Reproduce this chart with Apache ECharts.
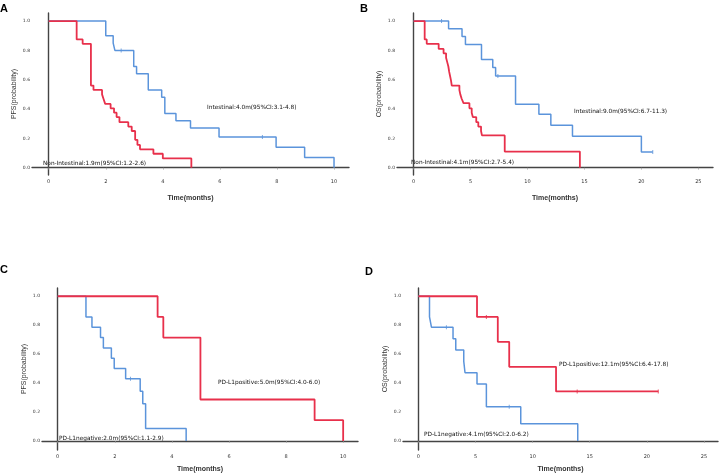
<!DOCTYPE html>
<html>
<head>
<meta charset="utf-8">
<title>KM curves</title>
<script src="https://cdn.jsdelivr.net/npm/echarts@6/dist/echarts.min.js"></script>
<style>
  html, body { margin: 0; padding: 0; background: #fff; }
  #main { width: 720px; height: 474px; }
</style>
</head>
<body>
<div id="main"></div>
<script>
// ---- data ----
// A: PFS, intestinal vs non-intestinal
var aIntT = [0, 2.0, 2.26, 2.32, 2.98, 3.08, 3.49, 3.96, 4.07, 4.46, 4.97, 5.97, 7.97, 8.97, 10.0];
var aIntS = [1, 0.90, 0.85, 0.80, 0.69, 0.64, 0.53, 0.48, 0.37, 0.32, 0.27, 0.21, 0.14, 0.07, 0];
var aIntCens = [[2.54, 0.80], [7.49, 0.21]];
var aNonT = [0, 0.98, 1.19, 1.48, 1.57, 1.87, 1.92, 1.98, 2.17, 2.29, 2.38, 2.48, 2.79, 2.91, 3.03, 3.11, 3.2, 3.67, 4.0, 5.0];
var aNonS = [1, 0.875, 0.845, 0.56, 0.53, 0.50, 0.47, 0.435, 0.405, 0.375, 0.345, 0.31, 0.28, 0.25, 0.19, 0.155, 0.125, 0.095, 0.063, 0];

// B: OS, intestinal vs non-intestinal
var bIntT = [0, 3.07, 4.25, 4.55, 5.96, 6.95, 7.2, 8.95, 11.0, 12.05, 13.95, 20.0, 21.0];
var bIntS = [1, 0.948, 0.895, 0.84, 0.737, 0.684, 0.625, 0.432, 0.365, 0.29, 0.215, 0.107, 0.107];
var bIntCens = [[2.45, 1.0], [7.4, 0.625], [21.0, 0.107]];
var bNonT = [0, 0.97, 1.15, 2.2, 2.63, 2.85, 2.95, 3.05, 3.12, 3.2, 3.28, 3.35, 4.02, 4.1, 4.22, 4.38, 4.9, 5.1, 5.2, 5.5, 5.68, 5.92, 6.0, 8.0, 14.6];
var bNonS = [1, 0.875, 0.845, 0.81, 0.78, 0.75, 0.72, 0.69, 0.655, 0.625, 0.595, 0.56, 0.53, 0.50, 0.47, 0.44, 0.405, 0.375, 0.345, 0.31, 0.28, 0.25, 0.22, 0.11, 0];

// C: PFS, PD-L1 positive vs negative
var cPosT = [0, 3.5, 3.7, 5.0, 9.0, 10.0];
var cPosS = [1, 0.857, 0.714, 0.286, 0.143, 0];
var cNegT = [0, 0.99, 1.2, 1.5, 1.6, 1.88, 1.98, 2.38, 2.89, 2.98, 3.08, 4.5];
var cNegS = [1, 0.857, 0.786, 0.714, 0.643, 0.571, 0.5, 0.429, 0.343, 0.257, 0.086, 0];
var cNegCens = [[2.55, 0.429]];

// D: OS, PD-L1 positive vs negative
var dPosT = [0, 5.13, 6.95, 7.95, 12.05, 21.0];
var dPosS = [1, 0.857, 0.685, 0.512, 0.342, 0.342];
var dPosCens = [[5.95, 0.857], [13.9, 0.342], [21.0, 0.342]];
var dNegT = [0, 0.97, 1.14, 3.03, 3.27, 3.97, 4.08, 5.13, 5.95, 8.96, 13.95];
var dNegS = [1, 0.857, 0.786, 0.707, 0.628, 0.55, 0.471, 0.393, 0.236, 0.118, 0];
var dNegCens = [[2.45, 0.786], [7.95, 0.236]];

var xTicksShort = [0, 2, 4, 6, 8, 10];
var xTicksLong = [0, 5, 10, 15, 20, 25];
var yTicks = [0, 0.2, 0.4, 0.6, 0.8, 1.0];
var panelLetters = ['A', 'B', 'C', 'D'];
var yTitles = ['PFS(probability)', 'OS(probability)', 'PFS(probability)', 'OS(probability)'];
var xTitle = 'Time(months)';
var notes = [
  'Intestinal:4.0m(95%CI:3.1-4.8)', 'Non-Intestinal:1.9m(95%CI:1.2-2.6)',
  'Intestinal:9.0m(95%CI:6.7-11.3)', 'Non-Intestinal:4.1m(95%CI:2.7-5.4)',
  'PD-L1positive:5.0m(95%CI:4.0-6.0)', 'PD-L1negative:2.0m(95%CI:1.1-2.9)',
  'PD-L1positive:12.1m(95%CI:6.4-17.8)', 'PD-L1negative:4.1m(95%CI:2.0-6.2)'
];

var RED = '#e8304b';
var BLUE = '#5b94db';

function zip(t, s) {
  var out = [];
  for (var i = 0; i < t.length; i++) out.push([t[i], s[i]]);
  return out;
}

var grids = [
  {left: 32, top: 13, width: 317, height: 162},
  {left: 397, top: 13, width: 316, height: 162},
  {left: 42, top: 288, width: 316, height: 164},
  {left: 403, top: 288, width: 315, height: 164}
];
var xRanges = [[-0.585, 10.525], [-1.46, 26.29], [-0.55, 10.52], [-1.35, 26.23]];
var yRanges = [[-0.05, 1.055], [-0.05, 1.055], [-0.063, 1.057], [-0.063, 1.057]];
var xNameGap = [20, 20, 16, 16];

var axisLine = {lineStyle: {color: '#444', width: 1.4}};
var xAxes = [], yAxes = [];
for (var i = 0; i < 4; i++) {
  var xt = (i % 2 === 0) ? xTicksShort : xTicksLong;
  xAxes.push({
    type: 'value', gridIndex: i, min: xRanges[i][0], max: xRanges[i][1],
    name: xTitle, nameLocation: 'middle', nameGap: xNameGap[i],
    nameTextStyle: {fontSize: 7, fontWeight: 'bold', color: '#333', fontFamily: 'Liberation Sans'},
    axisLine: axisLine, splitLine: {show: false},
    axisTick: {show: true, length: 2, customValues: xt, lineStyle: {color: '#999', width: 0.6}},
    axisLabel: {customValues: xt, fontSize: 5, color: '#333', margin: 4, fontFamily: 'DejaVu Sans'}
  });
  yAxes.push({
    type: 'value', gridIndex: i, min: yRanges[i][0], max: yRanges[i][1],
    name: yTitles[i], nameLocation: 'middle', nameRotate: 90, nameGap: 14,
    nameTextStyle: {fontSize: 7, color: '#333', fontFamily: 'Liberation Sans'},
    axisLine: axisLine, splitLine: {show: false},
    axisTick: {show: false},
    axisLabel: {customValues: yTicks, fontSize: 4.5, color: '#333', margin: 2, fontFamily: 'DejaVu Sans',
      formatter: function (v) { return v.toFixed(1); }}
  });
}

function curve(idx, t, s, color, w) {
  return {type: 'line', step: 'end', xAxisIndex: idx, yAxisIndex: idx, data: zip(t, s),
    showSymbol: false, symbol: 'none', lineStyle: {color: color, width: w}, z: color === RED ? 3 : 2};
}
function cens(idx, pts, color) {
  return {type: 'scatter', xAxisIndex: idx, yAxisIndex: idx, data: pts, symbol: 'rect',
    symbolSize: [1, 4], itemStyle: {color: color}, z: 4};
}

var series = [
  curve(0, aIntT, aIntS, BLUE, 1.5), cens(0, aIntCens, BLUE),
  curve(0, aNonT, aNonS, RED, 1.8),
  curve(1, bIntT, bIntS, BLUE, 1.5), cens(1, bIntCens, BLUE),
  curve(1, bNonT, bNonS, RED, 1.8),
  curve(2, cNegT, cNegS, BLUE, 1.5), cens(2, cNegCens, BLUE),
  curve(2, cPosT, cPosS, RED, 1.8),
  curve(3, dNegT, dNegS, BLUE, 1.5), cens(3, dNegCens, BLUE),
  curve(3, dPosT, dPosS, RED, 1.8), cens(3, dPosCens, RED)
];

// label positions (pixels)
var letterPos = [[0, 3], [360, 3], [0, 264], [365, 266]];
var notePos = [[207, 107], [43, 163], [574, 111], [411, 162], [218, 382], [59, 438], [559, 364], [424, 434]];
var graphics = [];
panelLetters.forEach(function (l, k) {
  graphics.push({type: 'text', x: letterPos[k][0], y: letterPos[k][1],
    style: {text: l, font: 'bold 11px "Liberation Sans"', fill: '#000'}});
});
notes.forEach(function (n, k) {
  graphics.push({type: 'text', x: notePos[k][0], y: notePos[k][1],
    style: {text: n, font: '5.8px "DejaVu Sans"', fill: '#111', verticalAlign: 'middle'}});
});

var chart = echarts.init(document.getElementById('main'));
chart.setOption({
  backgroundColor: '#fff',
  animation: false,
  grid: grids,
  xAxis: xAxes,
  yAxis: yAxes,
  series: series,
  graphic: graphics
});
</script>
</body>
</html>
